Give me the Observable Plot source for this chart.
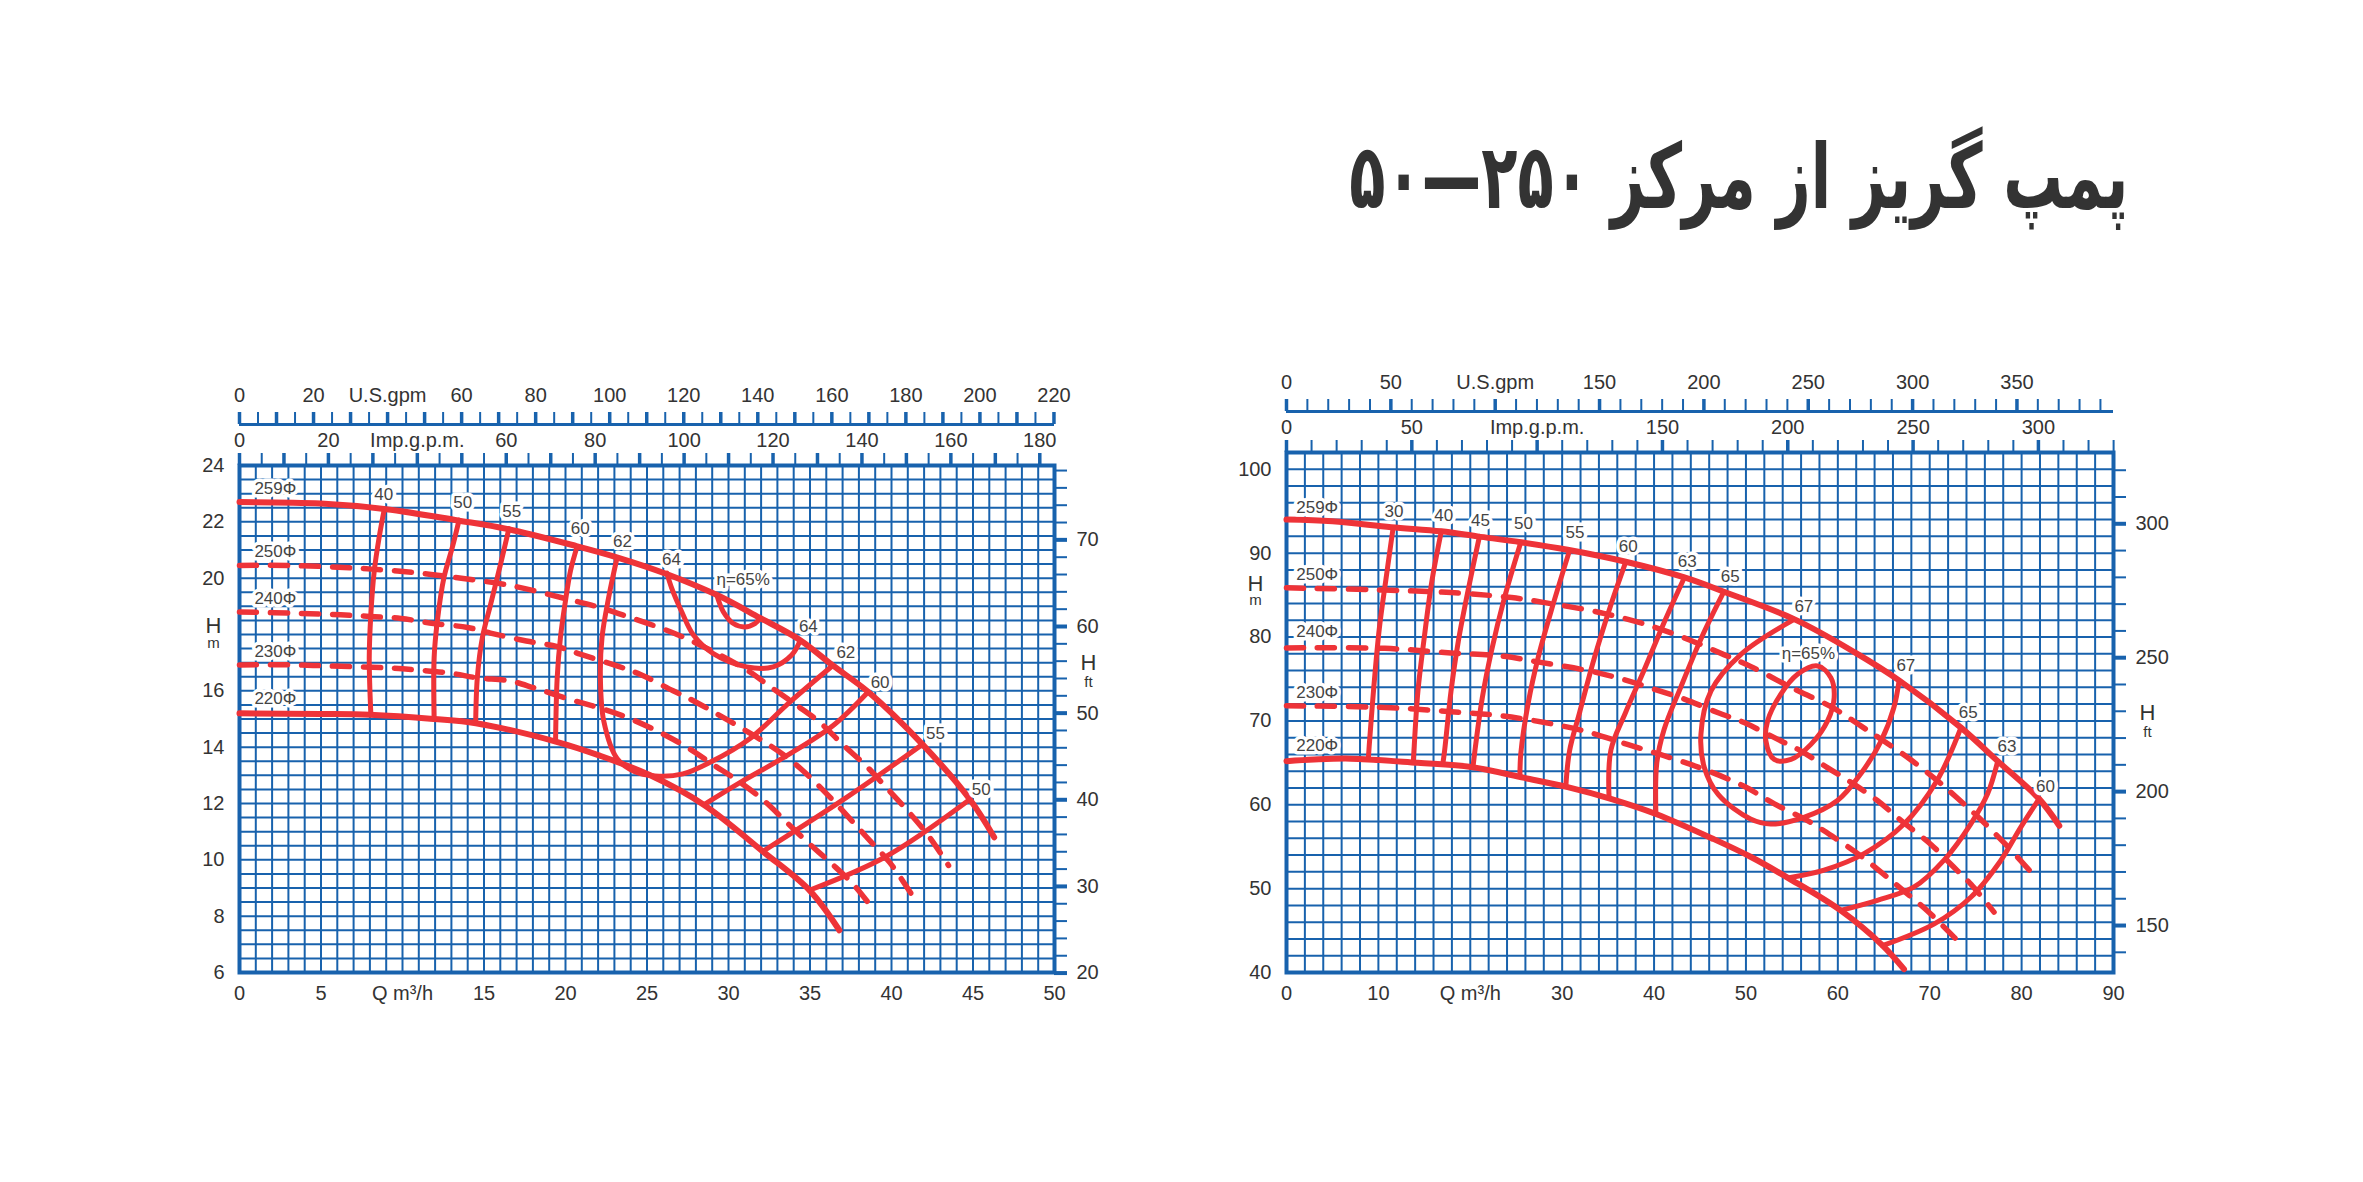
<!DOCTYPE html>
<html><head><meta charset="utf-8">
<script src="https://cdn.jsdelivr.net/npm/d3@7"></script>
<script src="https://cdn.jsdelivr.net/npm/@observablehq/plot@0.6"></script>
<style>
html,body{margin:0;padding:0;background:#fff;}
body{width:2363px;height:1182px;position:relative;overflow:hidden;font-family:"Liberation Sans",Arial,sans-serif;}
#title{position:absolute;right:235px;top:132px;font-family:"DejaVu Sans",sans-serif;font-weight:bold;font-size:90px;color:#333;direction:rtl;white-space:nowrap;line-height:1;transform:scaleX(0.66);transform-origin:right center;}
.chart{position:absolute;left:0;top:0;}
</style></head><body>
<div id="title">پمپ گریز از مرکز ۲۵۰—۵۰</div>
<div id="c1" class="chart"></div>
<div id="c2" class="chart"></div>
<script>
// ---------- conversion factors ----------
const US_GPM_PER_M3H = 4.4029;
const IMP_GPM_PER_M3H = 3.6662;

// ---------- LEFT CHART DATA (Q m3/h, H m) ----------
const L_259 = [[0,22.7],[5,22.65],[9,22.45],[13.4,22.05],[16.4,21.75],[20.6,21.15],[23.1,20.75],[26.2,20.15],[29.3,19.4],[31.9,18.6],[34.4,17.8],[36.4,16.9],[38.6,15.95],[41.9,14.1],[44.8,12.15],[46.3,10.8]];
const L_220 = [[0,15.2],[5,15.18],[8,15.15],[11.9,15.0],[14.5,14.85],[19.4,14.2],[22.1,13.7],[25.2,13.0],[28.5,11.95],[32.1,10.3],[35,8.9],[36.8,7.5]];
const L_250 = [[0,20.45],[3,20.45],[7,20.36],[10.7,20.2],[12.8,20.06],[16.6,19.74],[20.1,19.26],[22.1,18.96],[24,18.6],[26.2,18.15],[28,17.7],[31.1,16.75],[32.6,16.13],[34.2,15.48],[35.6,14.88],[37,14.1],[38.45,13.33],[39.6,12.62],[41.1,11.67],[42.3,10.83],[43.5,9.8]];
const L_240 = [[0,18.8],[3.8,18.75],[6.2,18.7],[8,18.64],[9.9,18.57],[11.9,18.39],[14,18.25],[15.4,18.05],[17.6,17.77],[19.5,17.57],[20.9,17.3],[23.2,16.88],[24.6,16.58],[26.6,16.0],[27.9,15.63],[31.6,14.4],[33.2,13.8],[34.5,13.2],[36.1,12.3],[37.7,11.3],[38.8,10.6],[39.9,9.9],[41.2,8.8]];
const L_230 = [[0,16.92],[3.4,16.92],[5.6,16.88],[8.9,16.82],[10.9,16.74],[13,16.62],[14.6,16.46],[16.6,16.35],[18.1,16.1],[20.3,15.69],[22.1,15.39],[23.8,15.05],[25.7,14.55],[27.45,14.0],[29,13.4],[30.6,12.8],[32.1,12.14],[33.5,11.37],[34.8,10.65],[36.3,9.88],[37.7,9.1],[39.0,8.15]];
const L_eff40 = [[8.88,22.44],[8.57,21.46],[8.27,20.27],[8.06,18.73],[7.96,17.18],[8.06,15.15]];
const L_eff50 = [[13.47,22.06],[13.06,21.1],[12.55,20.04],[12.14,18.49],[11.94,17.18],[11.94,15.0]];
const L_eff55 = [[16.53,21.76],[16.02,20.51],[15.41,19.08],[14.9,17.89],[14.59,16.46],[14.49,14.88]];
const L_eff60a = [[20.71,21.12],[20.31,20.27],[20.0,19.2],[19.69,17.89],[19.49,16.46],[19.39,14.2]];
const L_eff62 = [[23.16,20.72],[22.65,19.32],[22.24,17.89],[22.14,16.46],[22.35,14.92],[23.16,13.6],[24.18,13.15],[25.5,12.98],[27.2,13.05],[28.9,13.47],[31.3,14.3],[33.76,15.6],[36.4,16.9]];
const L_eff64 = [[26.22,20.18],[26.52,19.64],[27.13,18.81],[27.85,17.98],[29.07,17.32],[31.11,16.85],[32.74,16.85],[33.86,17.26],[34.4,17.79]];
const L_eff65 = [[29.28,19.4],[29.68,18.81],[30.3,18.39],[31.0,18.27],[31.62,18.39],[31.93,18.57]];
const L_eff60b = [[38.55,15.95],[36.4,14.76],[33.55,13.69],[30.7,12.74],[28.5,11.96]];
const L_eff55b = [[41.9,14.1],[37.2,12.2],[32.1,10.3]];
const L_eff50b = [[44.8,12.14],[39.67,10.12],[35.0,8.93]];
const L_labels = [
  {q:2.2,h:23.19,t:"259Φ"},{q:2.2,h:20.96,t:"250Φ"},{q:2.2,h:19.29,t:"240Φ"},{q:2.2,h:17.39,t:"230Φ"},{q:2.2,h:15.71,t:"220Φ"},
  {q:8.85,h:22.97,t:"40"},{q:13.7,h:22.69,t:"50"},{q:16.7,h:22.36,t:"55"},{q:20.9,h:21.76,t:"60"},{q:23.5,h:21.31,t:"62"},{q:26.5,h:20.65,t:"64"},
  {q:30.9,h:19.94,t:"η=65%"},{q:34.9,h:18.27,t:"64"},{q:37.2,h:17.36,t:"62"},{q:39.3,h:16.31,t:"60"},{q:42.7,h:14.47,t:"55"},{q:45.5,h:12.51,t:"50"}
];
const L_hTickLabels = [24,22,20,16,14,12,10,8,6];
const L_qTickLabels = [{v:0,t:"0"},{v:5,t:"5"},{v:10,t:"Q m³/h"},{v:15,t:"15"},{v:20,t:"20"},{v:25,t:"25"},{v:30,t:"30"},{v:35,t:"35"},{v:40,t:"40"},{v:45,t:"45"},{v:50,t:"50"}];
const L_usLabels = [{v:0,t:"0"},{v:20,t:"20"},{v:40,t:"U.S.gpm"},{v:60,t:"60"},{v:80,t:"80"},{v:100,t:"100"},{v:120,t:"120"},{v:140,t:"140"},{v:160,t:"160"},{v:180,t:"180"},{v:200,t:"200"},{v:220,t:"220"}];
const L_impLabels = [{v:0,t:"0"},{v:20,t:"20"},{v:40,t:"Imp.g.p.m."},{v:60,t:"60"},{v:80,t:"80"},{v:100,t:"100"},{v:120,t:"120"},{v:140,t:"140"},{v:160,t:"160"},{v:180,t:"180"}];
const L_ftLabels = [20,30,40,50,60,70];
const L_ftRef = [[20,5.98],[70,21.36]];

// ---------- RIGHT CHART DATA (Q m3/h, H m) ----------
const R_259 = [[0,94.0],[5,93.8],[11.4,93.1],[16.85,92.6],[20.8,92.0],[25.5,91.3],[30.6,90.4],[36.8,89.0],[43.3,87.1],[47.6,85.4],[55.3,82.1],[61.8,78.2],[66.7,74.8],[73.4,69.2],[77.4,65.2],[81.9,60.7],[84.1,57.5]];
const R_220 = [[0,65.2],[3,65.4],[7,65.5],[14.3,65.0],[20.1,64.5],[25.9,63.2],[30.6,62.1],[35.3,60.7],[40.2,58.9],[46.5,55.9],[50.5,53.8],[54.7,51.2],[60.3,47.4],[64.8,43.3],[67.2,40.4]];
const R_250 = [[0,85.87],[10.7,85.6],[17.9,85.3],[24.5,84.7],[28.1,84.1],[34.2,82.9],[39.7,81.3],[44.2,79.5],[47.6,77.9],[50.5,76.5],[54.9,74.0],[59.4,71.6],[62.5,69.4],[65.0,67.6],[67.9,65.4],[70.8,62.9],[73.0,60.8],[75.5,58.3],[78.5,55.0],[81.0,52.0]];
const R_240 = [[0,78.7],[10.7,78.65],[17.9,78.1],[23.7,77.7],[27,77.1],[33.2,75.9],[36.8,74.9],[40.5,73.6],[43.3,72.6],[46.9,71.0],[49.8,69.8],[53.1,68.0],[56,66.4],[58.9,64.4],[61.4,62.7],[64.3,60.5],[66.9,58.1],[70.1,55.3],[72.3,52.9],[74.5,50.5],[77.0,47.2]];
const R_230 = [[0,71.8],[10.7,71.6],[17.9,71.1],[23.4,70.6],[28.1,69.8],[32.4,68.8],[37.1,67.2],[41.8,65.6],[45.5,64.2],[49.8,62.2],[53.1,60.1],[56.7,58.1],[59.6,56.1],[62.5,53.9],[65.0,51.7],[67.2,49.7],[69.7,47.4],[72.3,44.6],[73.2,43.6]];
const R_eff30 = [[11.6,93.0],[10.9,87.5],[10.1,81],[9.5,74],[9.0,67],[8.9,65.4]];
const R_eff40 = [[16.85,92.6],[15.8,86.5],[15.0,80],[14.3,73.5],[13.9,67],[13.8,65.1]];
const R_eff45 = [[21.0,92.0],[19.9,86.3],[18.7,79.5],[17.9,73.5],[17.2,66.4],[17.0,64.8]];
const R_eff50 = [[25.5,91.3],[23.7,84.6],[22.3,78.3],[21.3,72.7],[20.5,66.4],[20.3,64.5]];
const R_eff55 = [[30.8,90.3],[28.8,83.1],[27.4,77.6],[26.3,72.1],[25.5,66.1],[25.4,63.3]];
const R_eff60 = [[36.9,88.9],[35.2,83.5],[33.5,77.5],[31.9,71.0],[30.8,66.4],[30.4,62.2]];
const R_eff63 = [[43.3,87.1],[41.0,81.5],[38.9,76.0],[36.9,71.0],[35.3,66.5],[35.1,60.9]];
const R_eff65 = [[47.6,85.4],[45.2,80.0],[42.9,74.0],[41.1,69.0],[40.3,65.0],[40.2,58.9]];
const R_eff67 = [[55.25,82.1],[49.46,77.94],[46.2,73.57],[45.1,68.4],[45.47,64.45],[47.0,61.2],[50.5,58.3],[52.7,57.7],[56.3,58.5],[59.96,60.5],[62.5,63.7],[64.7,67.6],[66.1,71.6],[66.67,74.8]];
const R_eff65ring = [[57.79,76.55],[59.24,75.16],[59.6,72.78],[58.88,70.0],[57.07,67.2],[54.9,65.4],[53.08,65.4],[52.17,67.6],[52.36,70.0],[53.8,73.2],[55.62,75.56]];
const R_eff65b = [[54.7,51.3],[58.5,52.2],[62.9,54.2],[67.2,57.7],[70.8,62.9],[73.4,69.2]];
const R_eff63b = [[60.3,47.4],[64.3,48.6],[68.3,50.2],[71.56,53.4],[74.46,57.7],[76.3,61.3],[77.4,65.2]];
const R_eff60b = [[64.85,43.2],[70.5,45.8],[74.5,49.0],[77.7,53.3],[79.9,57.3],[81.9,60.7]];
const R_labels = [
  {q:3.34,h:95.46,t:"259Φ"},{q:3.34,h:87.5,t:"250Φ"},{q:3.34,h:80.6,t:"240Φ"},{q:3.34,h:73.4,t:"230Φ"},{q:3.34,h:67.1,t:"220Φ"},
  {q:11.7,h:94.95,t:"30"},{q:17.1,h:94.5,t:"40"},{q:21.1,h:93.9,t:"45"},{q:25.8,h:93.5,t:"50"},{q:31.4,h:92.4,t:"55"},{q:37.2,h:90.8,t:"60"},
  {q:43.6,h:89.0,t:"63"},{q:48.3,h:87.2,t:"65"},{q:56.3,h:83.6,t:"67"},{q:56.8,h:78.0,t:"η=65%"},{q:67.4,h:76.6,t:"67"},
  {q:74.2,h:71.0,t:"65"},{q:78.4,h:66.9,t:"63"},{q:82.6,h:62.2,t:"60"}
];
const R_hTickLabels = [100,90,80,70,60,50,40];
const R_qTickLabels = [{v:0,t:"0"},{v:10,t:"10"},{v:20,t:"Q m³/h"},{v:30,t:"30"},{v:40,t:"40"},{v:50,t:"50"},{v:60,t:"60"},{v:70,t:"70"},{v:80,t:"80"},{v:90,t:"90"}];
const R_usLabels = [{v:0,t:"0"},{v:50,t:"50"},{v:100,t:"U.S.gpm"},{v:150,t:"150"},{v:200,t:"200"},{v:250,t:"250"},{v:300,t:"300"},{v:350,t:"350"}];
const R_impLabels = [{v:0,t:"0"},{v:50,t:"50"},{v:100,t:"Imp.g.p.m."},{v:150,t:"150"},{v:200,t:"200"},{v:250,t:"250"},{v:300,t:"300"}];
const R_ftLabels = [150,200,250,300];
const R_ftRef = [[150,45.6],[300,93.5]];

// ---------- styling ----------
const BLUE = "#1862ad", RED = "#ee3338", TXT = "#333", LBL = "#444";
const FONT = "'Liberation Sans', Arial, sans-serif";
const AX = 20;

function drawChart(cfg) {
  const [L, R, T, B] = cfg.frame;
  const {qMax, hMin, hMax} = cfg;
  const ppx = (R - L) / qMax, ppy = (B - T) / (hMax - hMin);
  const up = px => hMax + px / ppy;
  const right = px => qMax + px / ppx;
  const [[f1, m1], [f2, m2]] = cfg.ftRef;
  const ftToM = ft => m1 + (ft - f1) * (m2 - m1) / (f2 - f1);
  const xy = {x: d => d[0], y: d => d[1]};
  const solid = (arr, w) => Plot.line(arr, {...xy, stroke: RED, strokeWidth: w, curve: "catmull-rom"});
  const dashed = arr => Plot.line(arr, {...xy, stroke: RED, strokeWidth: 5.5, curve: "catmull-rom", strokeDasharray: "17,14"});
  const marks = [
    Plot.ruleX(cfg.gridQ, {y1: hMin, y2: hMax, stroke: BLUE, strokeWidth: 2}),
    Plot.ruleY(cfg.gridH, {x1: 0, x2: qMax, stroke: BLUE, strokeWidth: 2}),
    Plot.frame({stroke: BLUE, strokeWidth: 4}),
    // U.S. gpm axis
    Plot.ruleY([hMax], {x1: 0, x2: qMax, dy: -41, stroke: BLUE, strokeWidth: 3}),
    Plot.ruleX(cfg.usTicks, {x: g => g / US_GPM_PER_M3H, y1: up(41), y2: up(53), stroke: BLUE, strokeWidth: g => g % cfg.usMajor === 0 ? 3.5 : 2}),
    Plot.text(cfg.usLabels, {x: d => d.v / US_GPM_PER_M3H, y: hMax, dy: -70, text: d => d.t, fontSize: AX, fill: TXT}),
    // Imp gpm axis
    Plot.ruleX(cfg.impTicks, {x: g => g / IMP_GPM_PER_M3H, y1: hMax, y2: up(12), stroke: BLUE, strokeWidth: g => g % cfg.impMajor === 0 ? 3.5 : 2}),
    Plot.text(cfg.impLabels, {x: d => d.v / IMP_GPM_PER_M3H, y: hMax, dy: -25, text: d => d.t, fontSize: AX, fill: TXT}),
    // H m axis
    Plot.text(cfg.hLabels, {x: 0, y: d => d, dx: -15, textAnchor: "end", fontSize: AX, fill: TXT}),
    Plot.text(["H"], {x: 0, y: cfg.hmPos[0], dx: cfg.hmDx, fontSize: 22, fill: TXT}),
    Plot.text(["m"], {x: 0, y: cfg.hmPos[1], dx: cfg.hmDx, fontSize: 15, fill: TXT}),
    // Q axis
    Plot.text(cfg.qLabels, {x: d => d.v, y: hMin, dy: 21, text: d => d.t, fontSize: AX, fill: TXT}),
    // H ft axis
    Plot.ruleY(cfg.ftTicks, {y: ftToM, x1: qMax, x2: right(13), stroke: BLUE, strokeWidth: f => f % cfg.ftMajor === 0 ? 4 : 2}),
    Plot.text(cfg.ftLabels, {x: qMax, y: ftToM, dx: 22, textAnchor: "start", fontSize: AX, fill: TXT}),
    Plot.text(["H"], {x: qMax, y: cfg.hftPos[0], dx: 34, fontSize: 22, fill: TXT}),
    Plot.text(["ft"], {x: qMax, y: cfg.hftPos[1], dx: 34, fontSize: 15, fill: TXT}),
  ];
  for (const d of cfg.dashed) marks.push(dashed(d));
  for (const e of cfg.eff) marks.push(solid(e, 5));
  if (cfg.ring) marks.push(Plot.line(cfg.ring, {...xy, stroke: RED, strokeWidth: 5, curve: "catmull-rom-closed"}));
  marks.push(solid(cfg.top, 6), solid(cfg.bottom, 6));
  marks.push(Plot.text(cfg.labels, {x: d => d.q, y: d => d.h, text: d => d.t, fontSize: 17, fill: LBL, stroke: "white", strokeWidth: 7, paintOrder: "stroke"}));
  return Plot.plot({
    width: 2363, height: 1182,
    marginLeft: L, marginRight: 2363 - R, marginTop: T, marginBottom: 1182 - B,
    x: {type: "linear", domain: [0, qMax], axis: null},
    y: {type: "linear", domain: [hMin, hMax], axis: null},
    style: {background: "none", overflow: "visible", fontFamily: FONT, maxWidth: "none"},
    marks
  });
}

document.getElementById("c1").append(drawChart({
  frame: [239, 1054, 465, 972], qMax: 50, hMin: 6, hMax: 24,
  gridQ: d3.range(0, 51, 1), gridH: d3.range(6, 24.01, 0.5),
  usTicks: d3.range(0, 221, 5), usMajor: 10, usLabels: L_usLabels,
  impTicks: d3.range(0, 181, 5), impMajor: 10, impLabels: L_impLabels,
  hLabels: L_hTickLabels, hmPos: [18.32, 17.68], hmDx: -26,
  qLabels: L_qTickLabels,
  ftTicks: d3.range(20, 79, 2), ftMajor: 10, ftLabels: L_ftLabels, ftRef: L_ftRef, hftPos: [17.0, 16.32],
  top: L_259, bottom: L_220, dashed: [L_250, L_240, L_230],
  eff: [L_eff40, L_eff50, L_eff55, L_eff60a, L_eff62, L_eff64, L_eff65, L_eff60b, L_eff55b, L_eff50b],
  labels: L_labels
}));

document.getElementById("c2").append(drawChart({
  frame: [1286, 2113, 452, 972], qMax: 90, hMin: 40, hMax: 102,
  gridQ: d3.range(0, 91, 2), gridH: d3.range(40, 102.01, 2),
  usTicks: d3.range(0, 391, 10), usMajor: 50, usLabels: R_usLabels,
  impTicks: d3.range(0, 331, 10), impMajor: 50, impLabels: R_impLabels,
  hLabels: R_hTickLabels, hmPos: [86.38, 84.35], hmDx: -31,
  qLabels: R_qTickLabels,
  ftTicks: d3.range(140, 330, 10), ftMajor: 50, ftLabels: R_ftLabels, ftRef: R_ftRef, hftPos: [70.97, 68.6],
  top: R_259, bottom: R_220, dashed: [R_250, R_240, R_230],
  eff: [R_eff30, R_eff40, R_eff45, R_eff50, R_eff55, R_eff60, R_eff63, R_eff65, R_eff67, R_eff65b, R_eff63b, R_eff60b],
  ring: R_eff65ring,
  labels: R_labels
}));
</script>
</body></html>
